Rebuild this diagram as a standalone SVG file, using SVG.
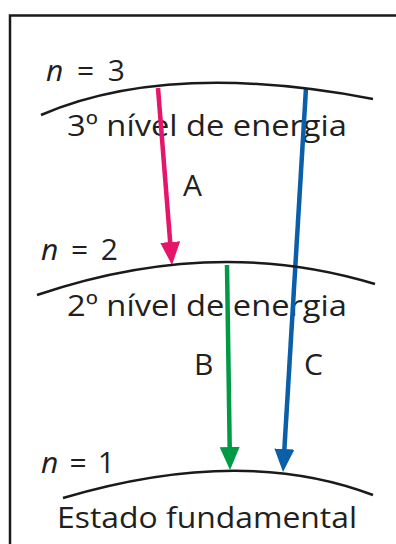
<svg xmlns="http://www.w3.org/2000/svg" width="396" height="544" viewBox="0 0 396 544">
<style>
.t{font-family:"Open Sans","Liberation Sans",sans-serif;font-size:30px;fill:#231f20}
.lvl{fill:none;stroke:#1a1a1a;stroke-width:2.5}
.arr{fill:none;stroke-width:4.5}
</style>
<defs>
<marker id="mA" markerUnits="userSpaceOnUse" markerWidth="24" markerHeight="22" refX="8" refY="10" orient="auto"><path d="M0,0 L23,10 L0,20 z" fill="#e5156b"/></marker>
<marker id="mB" markerUnits="userSpaceOnUse" markerWidth="24" markerHeight="22" refX="8" refY="10" orient="auto"><path d="M0,0 L23,10 L0,20 z" fill="#009a44"/></marker>
<marker id="mC" markerUnits="userSpaceOnUse" markerWidth="24" markerHeight="22" refX="8" refY="10" orient="auto"><path d="M0,0 L23,10 L0,20 z" fill="#0b5ea8"/></marker>
</defs>
<rect x="0" y="0" width="396" height="544" fill="#fff"/>
<path d="M10,544 V15.5 H396" fill="none" stroke="#1a1a1a" stroke-width="2.5"/>
<g id="labels">
<text class="t" x="46" y="81" textLength="79" lengthAdjust="spacing"><tspan font-style="italic">n</tspan> = 3</text>
<text class="t" x="67" y="136" textLength="280" lengthAdjust="spacingAndGlyphs">3º nível de energia</text>
<text class="t" x="41" y="260" textLength="77" lengthAdjust="spacing"><tspan font-style="italic">n</tspan> = 2</text>
<text class="t" x="67" y="316" textLength="280" lengthAdjust="spacingAndGlyphs">2º nível de energia</text>
<text class="t" x="41" y="473" textLength="74" lengthAdjust="spacing"><tspan font-style="italic">n</tspan> = 1</text>
<text class="t" x="57" y="528" textLength="300" lengthAdjust="spacingAndGlyphs">Estado fundamental</text>
</g>
<g id="connectors">
<line class="arr" x1="158" y1="88" x2="170.8" y2="250" stroke="#e5156b" marker-end="url(#mA)"/>
<line class="arr" x1="227" y1="265" x2="229.8" y2="455" stroke="#009a44" marker-end="url(#mB)"/>
<line class="arr" x1="306" y1="88" x2="283.9" y2="457" stroke="#0b5ea8" marker-end="url(#mC)"/>
<text class="t" x="183" y="196">A</text>
<text class="t" x="194" y="375">B</text>
<text class="t" x="304" y="375">C</text>
</g>
<g id="level3"><path class="lvl" d="M41,115 Q169,60 373,99"/></g>
<g id="level2"><path class="lvl" d="M37,295 Q214,235 375,284"/></g>
<g id="level1"><path class="lvl" d="M63,498 Q242,445 373,495"/></g>
</svg>
